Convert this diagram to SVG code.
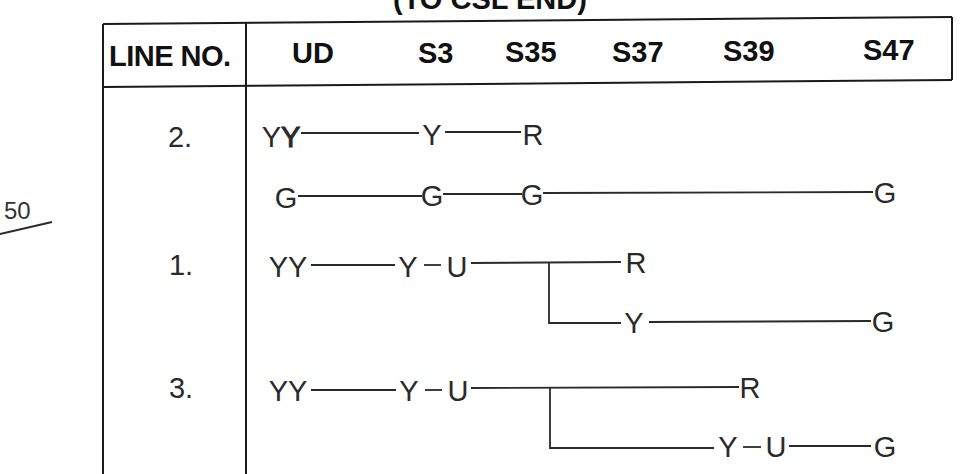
<svg xmlns="http://www.w3.org/2000/svg" width="976" height="474" viewBox="0 0 976 474">
<style>
.hd{font-family:"Liberation Sans",Arial,sans-serif;font-weight:bold;font-size:29px;fill:#111}
.tx{font-family:"Liberation Sans",Arial,sans-serif;font-size:29px;fill:#2a2a2a;text-anchor:middle}
.frame{stroke:#1a1a1a;stroke-width:2;fill:none}
.ln{stroke:#2a2a2a;stroke-width:1.8;fill:none}
</style>
<rect width="976" height="474" fill="#fff"/>
<g id="title"><text class="hd" x="393" y="9" font-size="30">(TO CSL END)</text></g>
<g id="table">
<line class="frame" x1="103" y1="24" x2="952" y2="17"/>
<line class="frame" x1="103" y1="87" x2="952" y2="80"/>
<line class="frame" x1="103" y1="24" x2="103" y2="474"/>
<line class="frame" x1="246" y1="23" x2="246" y2="474"/>
<line class="frame" x1="952" y1="17" x2="952" y2="80"/>
<text class="hd" x="109" y="66" letter-spacing="-0.5">LINE NO.</text>
<text class="hd" x="292" y="63">UD</text>
<text class="hd" x="418" y="63">S3</text>
<text class="hd" x="505" y="62">S35</text>
<text class="hd" x="612" y="62">S37</text>
<text class="hd" x="723" y="61">S39</text>
<text class="hd" x="863" y="60">S47</text>
</g>
<g id="note50">
<text x="4" y="219" font-family="Liberation Sans,Arial,sans-serif" font-size="24" fill="#333">50</text>
<line class="ln" x1="0" y1="234" x2="52" y2="222"/>
</g>
<g id="labels">
<text class="tx" x="180" y="147">2.</text>
<text class="tx" x="181" y="275">1.</text>
<text class="tx" x="181" y="398">3.</text>
</g>
<g id="connectors">
<line class="ln" x1="301" y1="133" x2="419" y2="133"/>
<line class="ln" x1="445" y1="132" x2="521" y2="132"/>
<line class="ln" x1="298" y1="196" x2="422" y2="196"/>
<line class="ln" x1="443" y1="194" x2="522" y2="194"/>
<line class="ln" x1="543" y1="193" x2="873" y2="192"/>
<line class="ln" x1="311" y1="265" x2="395" y2="265"/>
<line class="ln" x1="424" y1="265" x2="441" y2="265"/>
<line class="ln" x1="471" y1="263" x2="621" y2="262"/>
<polyline class="ln" points="549,262 549,323 621,323"/>
<line class="ln" x1="649" y1="322" x2="871" y2="321"/>
<line class="ln" x1="311" y1="390" x2="396" y2="390"/>
<line class="ln" x1="425" y1="390" x2="442" y2="390"/>
<line class="ln" x1="471" y1="388" x2="739" y2="387"/>
<polyline class="ln" points="550,388 550,448 714,448"/>
<line class="ln" x1="743" y1="447" x2="761" y2="447"/>
<line class="ln" x1="789" y1="446" x2="871" y2="446"/>
</g>
<g id="n2-YY"><text class="tx" x="281" y="147">Y<tspan stroke="#2a2a2a" stroke-width="1">Y</tspan></text></g>
<g id="n2-Y"><text class="tx" x="432" y="145">Y</text></g>
<g id="n2-R"><text class="tx" x="533" y="145">R</text></g>
<g id="n2-G1"><text class="tx" x="286" y="208">G</text></g>
<g id="n2-G2"><text class="tx" x="432" y="206">G</text></g>
<g id="n2-G3"><text class="tx" x="532" y="205">G</text></g>
<g id="n2-G4"><text class="tx" x="885" y="203">G</text></g>
<g id="n1-YY"><text class="tx" x="288" y="277">YY</text></g>
<g id="n1-Y"><text class="tx" x="408" y="277">Y</text></g>
<g id="n1-U"><text class="tx" x="457" y="277">U</text></g>
<g id="n1-R"><text class="tx" x="636" y="273">R</text></g>
<g id="n1-Y2"><text class="tx" x="634" y="333">Y</text></g>
<g id="n1-G"><text class="tx" x="883" y="332">G</text></g>
<g id="n3-YY"><text class="tx" x="288" y="401">YY</text></g>
<g id="n3-Y"><text class="tx" x="409" y="401">Y</text></g>
<g id="n3-U"><text class="tx" x="458" y="401">U</text></g>
<g id="n3-R"><text class="tx" x="750" y="398">R</text></g>
<g id="n3-Y2"><text class="tx" x="728" y="457">Y</text></g>
<g id="n3-U2"><text class="tx" x="776" y="457">U</text></g>
<g id="n3-G"><text class="tx" x="885" y="457">G</text></g>
</svg>
